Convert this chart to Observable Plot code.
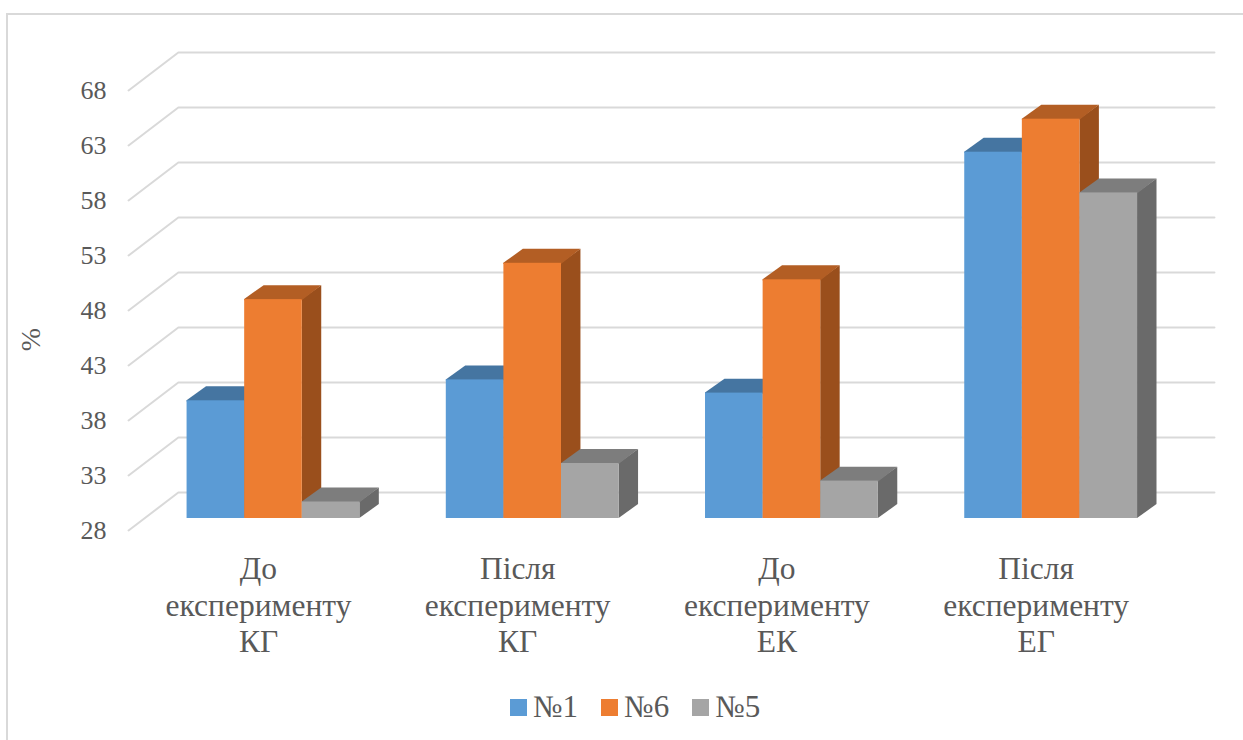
<!DOCTYPE html>
<html lang="uk">
<head>
<meta charset="utf-8">
<script src="https://cdn.jsdelivr.net/npm/d3@7"></script>
<script src="https://cdn.jsdelivr.net/npm/@observablehq/plot@0.6"></script>
<style>
  html, body { margin: 0; padding: 0; background: #fff; overflow: hidden; }
  body { width: 1243px; height: 740px; position: relative; font-family: "Liberation Serif", serif; }
  #frame { position: absolute; left: 6px; top: 13px; right: 0; bottom: 0;
           border-left: 2px solid #d9d9d9; border-top: 2px solid #d9d9d9; pointer-events: none; }
  #chart svg { display: block; }
  #legend { position: absolute; left: 510px; top: 690px; display: flex; color: #595959;
            font-size: 31px; line-height: 34px; }
  #legend .item { display: flex; align-items: center; margin-right: 23px; }
  #legend .swatch { width: 17px; height: 17px; margin-right: 6px; }
</style>
</head>
<body>
<div id="chart"></div>
<div id="legend"></div>
<div id="frame"></div>
<script>
// Percentages per group, one array per test
const categories = ["До\nексперименту\nКГ", "Після\nексперименту\nКГ", "До\nексперименту\nЕК", "Після\nексперименту\nЕГ"];
const seriesNames = ["№1", "№6", "№5"];
const values1 = [38.7, 40.6, 39.4, 61.3];
const values6 = [47.9, 51.2, 49.7, 64.3];
const values5 = [29.5, 33.0, 31.4, 57.6];
const yTicks = [28, 33, 38, 43, 48, 53, 58, 63, 68];

// Face colours: front, top, side
const frontColors = ["#5b9bd5", "#ed7d31", "#a5a5a5"];
const topColors = ["#4575a1", "#b35e24", "#7d7d7d"];
const sideColors = ["#3a6a96", "#9a4f1c", "#6a6a6a"];

// Oblique projection of the chart box, in axis units
const baseline = 28;
const barWidth = 2 / 9;
const barDepthX = 0.075;
const barDepthY = 1.27;
const faceOverlap = 0.1; // top face tucks behind the front face to avoid a seam
const wallFront = { x: -0.561, dy: -1.09 };
const wallBack = { x: -0.369, dy: 2.36 };
const wallRight = 3.628;

const seriesValues = [values1, values6, values5];

// Grid: a polyline for each level running along the floor side and the back wall
const gridPoints = yTicks.flatMap((t) => [
  { level: t, x: wallFront.x, y: t + wallFront.dy },
  { level: t, x: wallBack.x, y: t + wallBack.dy },
  { level: t, x: wallRight, y: t + wallBack.dy }
]);

// Bars are painted left to right so each covers the faces of its left neighbour
const barMarks = seriesValues.flatMap((vals, s) => {
  const bars = vals.map((v, g) => {
    const x1 = g - 0.002 + (s - 1.5) * barWidth;
    return { g, v, x1, x2: x1 + barWidth };
  });
  const side = bars.flatMap((b) => [
    { g: b.g, x: b.x2, y1: baseline, y2: b.v },
    { g: b.g, x: b.x2 + barDepthX, y1: baseline + barDepthY, y2: b.v + barDepthY }
  ]);
  const top = bars.flatMap((b) => [
    { g: b.g, x: b.x1, y1: b.v - faceOverlap, y2: b.v },
    { g: b.g, x: b.x1 + barDepthX, y1: b.v - faceOverlap, y2: b.v + barDepthY },
    { g: b.g, x: b.x2, y1: b.v - faceOverlap, y2: b.v + barDepthY },
    { g: b.g, x: b.x2 + barDepthX, y1: b.v + barDepthY, y2: b.v + barDepthY }
  ]);
  return [
    Plot.areaY(side, { x: "x", y1: "y1", y2: "y2", z: "g", fill: sideColors[s] }),
    Plot.areaY(top, { x: "x", y1: "y1", y2: "y2", z: "g", fill: topColors[s] }),
    Plot.rect(bars, { x1: "x1", x2: "x2", y1: () => baseline, y2: "v", fill: frontColors[s], inset: 0 })
  ];
});

const chart = Plot.plot({
  width: 1243,
  height: 690,
  marginLeft: 112,
  marginRight: 28,
  marginTop: 0,
  marginBottom: 0,
  style: { fontFamily: "'Liberation Serif', serif", background: "transparent", color: "#595959" },
  x: { domain: [-0.623, 3.632], range: [112, 1215], axis: null },
  y: { domain: [28, 68], range: [518, 78], axis: null },
  marks: [
    Plot.line(gridPoints, { x: "x", y: "y", z: "level", stroke: "#d9d9d9", strokeWidth: 2 }),
    ...barMarks,
    // Value labels sit at the front edge of the floor side
    Plot.axisY({ ticks: yTicks, tickSize: 0, tickPadding: 6, anchor: "left", label: null, dy: 11.8, fontSize: 26, tickFormat: (d) => String(d), fill: "#595959" }),
    Plot.text(["%"], { frameAnchor: "left", dx: -81, y: () => 43.2, text: (d) => d, rotate: -90, fontSize: 28, fill: "#595959" }),
    Plot.text(categories, {
      x: (_, i) => i,
      y: () => baseline,
      dx: -15.5,
      dy: 85.5,
      text: (d) => d,
      fontSize: 31.5,
      lineHeight: 1.165,
      fill: "#595959"
    })
  ]
});
document.getElementById("chart").append(chart);

// Legend beneath the chart
const legend = d3.select("#legend");
seriesNames.forEach((name, i) => {
  const item = legend.append("div").attr("class", "item");
  item.append("div").attr("class", "swatch").style("background", frontColors[i]);
  item.append("span").text(name);
});
</script>
</body>
</html>
